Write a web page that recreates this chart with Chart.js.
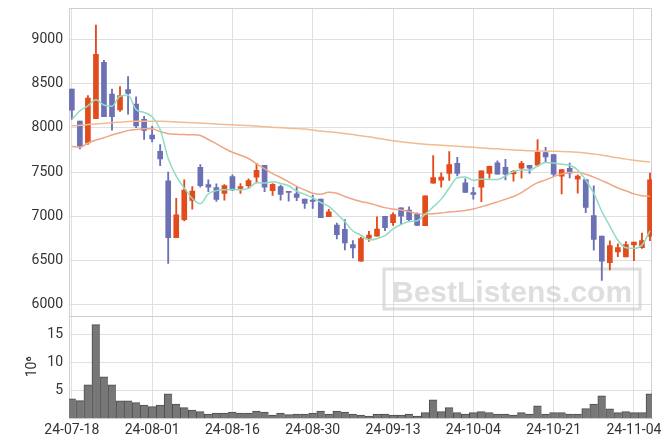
<!DOCTYPE html>
<html>
<head>
<meta charset="utf-8">
<script src="https://cdn.jsdelivr.net/npm/chart.js@4.4.1/dist/chart.umd.min.js"></script>
<style>
  html, body { margin: 0; padding: 0; background: #fff; }
</style>
</head>
<body>
<canvas id="chart" width="671" height="444"></canvas>
<script>
// trading days (YY-MM-DD)
var dates = [
  '24-07-18','24-07-19','24-07-22','24-07-23','24-07-24','24-07-25','24-07-26','24-07-29','24-07-30','24-07-31',
  '24-08-01','24-08-02','24-08-05','24-08-06','24-08-07','24-08-08','24-08-09','24-08-12','24-08-13','24-08-14',
  '24-08-16','24-08-19','24-08-20','24-08-21','24-08-22','24-08-23','24-08-26','24-08-27','24-08-28','24-08-29',
  '24-08-30','24-09-02','24-09-03','24-09-04','24-09-05','24-09-06','24-09-09','24-09-10','24-09-11','24-09-12',
  '24-09-13','24-09-19','24-09-20','24-09-23','24-09-24','24-09-25','24-09-26','24-09-27','24-09-30','24-10-02',
  '24-10-04','24-10-07','24-10-08','24-10-10','24-10-11','24-10-14','24-10-15','24-10-16','24-10-17','24-10-18',
  '24-10-21','24-10-22','24-10-23','24-10-24','24-10-25','24-10-28','24-10-29','24-10-30','24-10-31','24-11-01',
  '24-11-04','24-11-05','24-11-06'
];
var tickDates = ['24-07-18','24-08-01','24-08-16','24-08-30','24-09-13','24-10-04','24-10-21','24-11-04'];
var priceTicks = [6000, 6500, 7000, 7500, 8000, 8500, 9000];
var volumeTicks = [5, 10, 15];

var open = [8441,8079,7832,8106,8741,8384,8205,8433,8269,8098,7919,7737,7402,6759,6964,7181,7554,7360,7326,7261,
  7451,7318,7349,7444,7577,7292,7337,7280,7257,7196,7185,7196,6999,6903,6854,6683,6496,6755,6778,7002,
  6930,7097,7071,7030,6896,7375,7410,7486,7600,7379,7269,7330,7486,7607,7554,7482,7546,7577,7581,7722,
  7699,7455,7543,7421,7417,7010,6778,6477,6599,6542,6679,6647,6778];
var high = [8441,8079,8365,9164,8764,8441,8467,8581,8353,8132,8018,7813,7501,7204,7413,7337,7585,7413,7368,7360,
  7470,7371,7425,7600,7577,7371,7356,7280,7330,7196,7242,7196,7082,6926,6964,6728,6766,6831,6995,7002,
  7040,7097,7109,7040,7234,7687,7493,7733,7668,7425,7330,7516,7570,7630,7645,7520,7623,7577,7870,7782,
  7699,7531,7604,7470,7417,7345,6778,6725,6690,6717,6710,6812,7489];
var low = [8098,7763,7813,8106,8129,7976,8186,8155,8003,7870,7843,7573,6470,6759,6949,7082,7330,7280,7170,7185,
  7292,7261,7326,7379,7280,7239,7185,7174,7178,7090,7090,6987,6999,6747,6622,6531,6496,6717,6778,6839,
  6899,6907,6953,6895,6896,7375,7330,7406,7459,7273,7196,7167,7433,7478,7413,7398,7433,7486,7566,7615,
  7451,7254,7437,7263,7044,6618,6277,6397,6546,6542,6500,6640,6725];
var close = [8201,7794,8338,8833,8129,8129,8365,8391,8022,7973,7877,7649,6759,7018,7299,7288,7349,7330,7193,7349,
  7299,7337,7406,7520,7330,7364,7250,7273,7215,7147,7170,6987,7052,6793,6702,6645,6751,6789,6858,6873,
  7022,7002,6964,6900,7234,7440,7444,7585,7486,7273,7250,7516,7566,7478,7478,7509,7600,7546,7725,7672,
  7478,7531,7489,7455,7101,6740,6494,6671,6648,6683,6710,6728,7413];
// volume in millions of shares
var volume = [3.45,3.14,5.96,16.7,7.40,5.96,3.09,3.09,2.78,2.36,2.06,2.36,4.34,2.54,1.88,1.47,1.17,0.75,0.93,0.93,
  1.11,0.93,0.93,1.29,1.11,0.57,0.93,0.63,0.75,0.75,0.93,1.29,0.75,1.29,1.11,0.75,0.57,0.39,0.75,0.75,
  0.57,0.57,0.75,0.39,0.99,3.27,1.17,1.88,0.99,0.75,0.99,1.17,0.99,0.75,0.75,0.57,0.99,0.75,2.19,0.75,
  0.99,0.99,0.75,0.75,1.71,2.54,3.98,1.65,0.99,1.17,0.99,0.99,4.34];

var ma5 = [8098,8193,8250,8319,8259,8245,8359,8369,8207,8176,8126,7982,7656,7455,7320,7203,7143,7257,7292,7302,
  7304,7302,7317,7382,7378,7391,7374,7347,7286,7250,7211,7158,7114,7030,6941,6836,6789,6736,6749,6783,
  6859,6909,6944,6952,7024,7108,7196,7321,7438,7446,7408,7422,7418,7417,7458,7509,7526,7522,7572,7610,
  7604,7590,7579,7525,7411,7263,7056,6892,6731,6647,6641,6676,6836];
var ma20 = [7790,7782,7830,7865,7890,7920,7945,7970,7983,7990,7990,7960,7935,7928,7925,7924,7915,7870,7820,7770,
  7725,7692,7655,7595,7540,7485,7440,7390,7340,7300,7262,7250,7275,7262,7225,7195,7170,7150,7125,7100,
  7085,7072,7055,7032,7025,7030,7040,7050,7058,7068,7085,7110,7136,7165,7195,7225,7270,7330,7382,7413,
  7450,7480,7498,7500,7477,7445,7405,7365,7322,7290,7255,7235,7228];
var ma120 = [8025,8030,8038,8045,8053,8060,8066,8072,8075,8076,8076,8075,8072,8068,8063,8058,8054,8050,8045,8040,
  8036,8032,8027,8022,8015,8008,8003,7998,7993,7988,7977,7965,7957,7948,7937,7925,7913,7900,7885,7870,
  7857,7845,7834,7824,7817,7810,7804,7799,7793,7788,7781,7775,7769,7764,7758,7752,7747,7742,7740,7738,
  7736,7735,7730,7726,7717,7707,7693,7678,7663,7648,7636,7625,7615];

var UP = '#e24b1b';
var DOWN = '#6c70b4';

function candleColor(ctx) {
    var i = ctx.dataIndex;
    return close[i] >= open[i] ? UP : DOWN;
}

function pts(arr) {
    return arr.map(function (v, i) { return { x: i, y: v }; });
}

function fixedTicks(values) {
    return function (scale) {
        scale.ticks = values.map(function (v) { return { value: v }; });
    };
}

// the y labels never reach the panel edges, so no extra room above/below
function noVertPadding(scale) {
    scale.paddingTop = 0;
    scale.paddingBottom = 0;
}

// light frame round the plot, line between the two panels, watermark
var extras = {
    id: 'extras',
    beforeDatasetsDraw: function (chart) {
        var c = chart.ctx;
        var a = chart.chartArea;
        c.save();
        c.strokeStyle = 'rgba(190,190,190,0.5)';
        c.lineWidth = 3;
        c.strokeRect(384, 269, 256, 40);
        c.fillStyle = 'rgba(190,190,190,0.5)';
        c.font = 'bold 30px "Liberation Sans", Arial, sans-serif';
        c.textBaseline = 'alphabetic';
        c.fillText('BestListens.com', 392, 301.5);

        c.strokeStyle = '#cfcfcf';
        c.lineWidth = 1;
        c.beginPath();
        c.moveTo(a.left, a.top + 0.5);
        c.lineTo(a.right - 0.5, a.top + 0.5);
        c.lineTo(a.right - 0.5, a.bottom);
        var sep = Math.round(chart.scales.yv.top) + 0.5;
        c.moveTo(a.left, sep);
        c.lineTo(a.right, sep);
        c.stroke();
        c.restore();
    }
};

Chart.defaults.font.family = 'Roboto';
Chart.defaults.font.size = 14;
Chart.defaults.color = '#333';

var gridColor = '#e0e0e0';

new Chart(document.getElementById('chart'), {
    type: 'bar',
    data: {
        datasets: [
            {
                type: 'line', label: 'MA5', data: pts(ma5), yAxisID: 'y', order: 1,
                borderColor: '#8fdcc3', borderWidth: 1.5, pointRadius: 0, cubicInterpolationMode: 'monotone'
            },
            {
                type: 'line', label: 'MA20', data: pts(ma20), yAxisID: 'y', order: 1,
                borderColor: '#f0a584', borderWidth: 1.5, pointRadius: 0, cubicInterpolationMode: 'monotone'
            },
            {
                type: 'line', label: 'MA120', data: pts(ma120), yAxisID: 'y', order: 1,
                borderColor: '#f2bb90', borderWidth: 1.5, pointRadius: 0, cubicInterpolationMode: 'monotone'
            },
            {
                label: 'body', yAxisID: 'y', order: 2, grouped: false,
                data: dates.map(function (d, i) { return { x: i, y: [open[i], close[i]] }; }),
                backgroundColor: candleColor, barThickness: 5, minBarLength: 1
            },
            {
                label: 'wick', yAxisID: 'y', order: 3, grouped: false,
                data: dates.map(function (d, i) { return { x: i, y: [low[i], high[i]] }; }),
                backgroundColor: candleColor, barThickness: 1.2
            },
            {
                label: 'volume', yAxisID: 'yv', order: 4, grouped: false,
                data: pts(volume),
                backgroundColor: '#777777', borderColor: '#4d4d4d',
                borderWidth: { top: 1, left: 1, right: 0, bottom: 0 }, borderSkipped: false,
                barThickness: 8
            }
        ]
    },
    options: {
        responsive: false,
        animation: false,
        layout: { padding: { left: 24.5, top: 8, right: 19, bottom: 1 } },
        plugins: {
            legend: { display: false },
            tooltip: { enabled: false }
        },
        scales: {
            x: {
                type: 'linear',
                offset: false,
                min: -0.35,
                max: 72.25,
                grid: { color: gridColor, drawTicks: false, offset: false },
                border: { color: '#cfcfcf' },
                afterBuildTicks: fixedTicks(tickDates.map(function (d) { return dates.indexOf(d); })),
                ticks: {
                    padding: 4,
                    maxRotation: 0,
                    autoSkip: false,
                    callback: function (v) { return dates[v]; }
                }
            },
            yv: {
                position: 'left',
                stack: 'panels',
                stackWeight: 1,
                min: 0,
                max: 18.3,
                grid: { color: gridColor, drawTicks: false },
                border: { color: '#cfcfcf' },
                title: { display: true, text: '10⁶', padding: { top: 0, bottom: 0 } },
                afterBuildTicks: fixedTicks(volumeTicks),
                afterFit: noVertPadding,
                ticks: { padding: 6, callback: function (v) { return String(v); } }
            },
            y: {
                position: 'left',
                stack: 'panels',
                stackWeight: 3,
                min: 5879,
                max: 9356,
                grid: { color: gridColor, drawTicks: false },
                border: { color: '#cfcfcf' },
                afterBuildTicks: fixedTicks(priceTicks),
                afterFit: noVertPadding,
                ticks: { padding: 6, callback: function (v) { return String(v); } }
            }
        }
    },
    plugins: [extras]
});
</script>
</body>
</html>
